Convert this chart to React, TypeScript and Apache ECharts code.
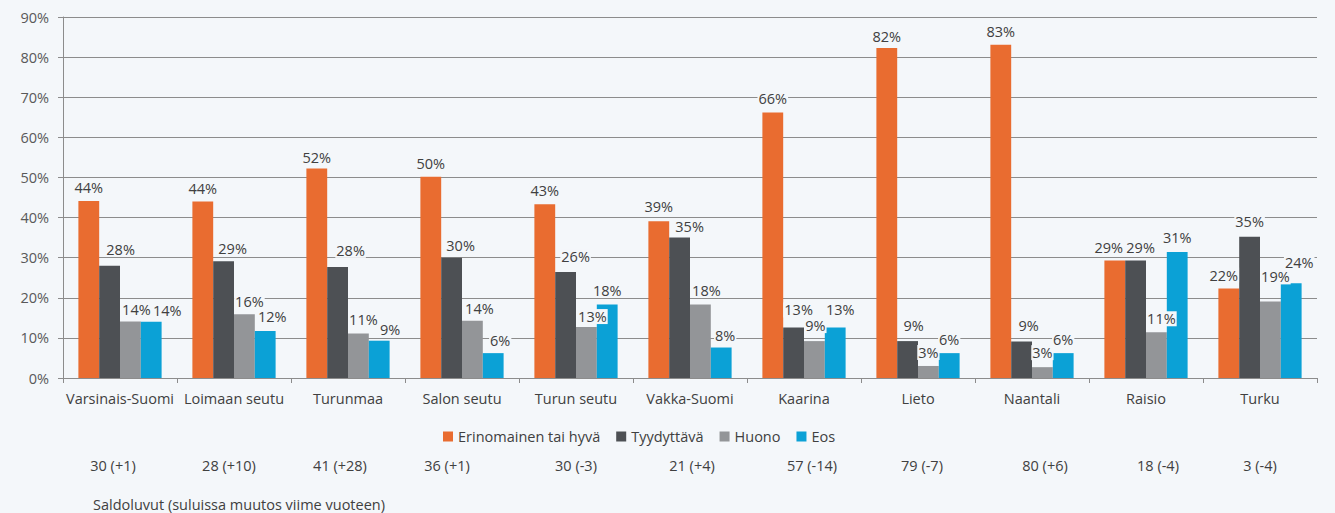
import React, { useEffect, useRef } from "react";
import * as echarts from "echarts";

const categories = [
  "Varsinais-Suomi",
  "Loimaan seutu",
  "Turunmaa",
  "Salon seutu",
  "Turun seutu",
  "Vakka-Suomi",
  "Kaarina",
  "Lieto",
  "Naantali",
  "Raisio",
  "Turku",
];

const saldoLabels = [
  "30 (+1)",
  "28 (+10)",
  "41 (+28)",
  "36 (+1)",
  "30 (-3)",
  "21 (+4)",
  "57 (-14)",
  "79 (-7)",
  "80 (+6)",
  "18 (-4)",
  "3 (-4)",
];

const seriesNames = ["Erinomainen tai hyvä", "Tyydyttävä", "Huono", "Eos"];

const erinomainen = [44.1, 44.0, 52.2, 50.2, 43.3, 39.1, 66.2, 82.3, 83.1, 29.3, 22.3];
const tyydyttava = [28.0, 29.1, 27.7, 30.0, 26.4, 35.0, 12.6, 9.2, 9.1, 29.3, 35.2];
const huono = [14.1, 15.9, 11.1, 14.3, 12.7, 18.3, 9.2, 3.0, 2.7, 11.4, 19.1];
const eos = [14.0, 11.7, 9.3, 6.2, 18.3, 7.6, 12.6, 6.2, 6.2, 31.4, 23.6];

const colors = ["#E96C30", "#4D5054", "#939598", "#0BA1D6"];

const yTicks = { min: 0, max: 90, interval: 10 };

const footnote = "Saldoluvut (suluissa muutos viime vuoteen)";

// Data-label nudges (pixels) as placed in the original, per series, per category
const labelDx = [
  [0, 0, 0, 0, 0, 0, 0, 0, 0, -6, -5],
  [11, 9, 13, 9, 10, 10, 5, 6, 7, 5, 0],
  [6, 5, 5, 7, 6, 6, 1, 0, 0, 5, 5],
  [16, 7, 11, 7, 0, 4, 5, 0, 0, 0, 8],
];
const labelDy = [
  [-1, -1, 1, -1, -1, -2, -1, 1, -1, 0, -1],
  [-4, 0, -4, 0, -3, 1, -5, -3, -3, 0, -3],
  [1, 0, -1, 0, 2, -2, -3, -1, -2, -1, -12],
  [1, -2, 1, 0, -2, 0, -5, -1, -1, -2, -8],
];
// Horizontal nudges (pixels) of the saldo row texts
const saldoDx = [-7, -5, -8, -15, 0, 2, 8, 4, 13, 12, 0];

const BG = "#F4F7FA";
const TEXT = "#404040";
const FONT = "'Open Sans', sans-serif";
const FS = 14.5;

export default function App() {
  const ref = useRef<HTMLDivElement>(null);

  useEffect(() => {
    if (!ref.current) return;
    const chart = echarts.init(ref.current, null, { renderer: "svg" });
    const data = [erinomainen, tyydyttava, huono, eos];
    const saldoRich: Record<string, any> = {};
    saldoDx.forEach((dx, i) => {
      saldoRich["s" + i] = {
        fontSize: FS,
        color: TEXT,
        fontFamily: FONT,
        padding: dx >= 0 ? [0, 0, 0, 2 * dx] : [0, -2 * dx, 0, 0],
      };
    });
    chart.setOption({
      animation: false,
      backgroundColor: BG,
      textStyle: { fontFamily: FONT },
      title: {
        text: footnote,
        left: 88,
        top: 492,
        textStyle: { fontSize: FS, fontWeight: "normal", color: TEXT, fontFamily: FONT },
      },
      legend: {
        data: seriesNames,
        left: 438,
        top: 424,
        itemWidth: 10,
        itemHeight: 10,
        itemGap: 16,
        icon: "rect",
        textStyle: { fontSize: FS, color: TEXT, fontFamily: FONT },
      },
      grid: { left: 63, right: 18, top: 17, bottom: 135, containLabel: false },
      xAxis: [
        {
          type: "category",
          data: categories,
          position: "bottom",
          axisLine: { show: true, lineStyle: { color: "#8C8C8C", width: 1 } },
          axisTick: { show: true, length: 5, interval: 0, lineStyle: { color: "#8C8C8C" } },
          axisLabel: { interval: 0, margin: 13, fontSize: FS, color: TEXT, fontFamily: FONT },
        },
        {
          type: "category",
          data: saldoLabels,
          position: "bottom",
          offset: 72,
          axisLine: { show: false },
          axisTick: { show: false },
          axisLabel: {
            interval: 0,
            margin: 8,
            fontSize: FS,
            color: TEXT,
            fontFamily: FONT,
            formatter: (val: string, idx: number) => `{s${idx}|${val}}`,
            rich: saldoRich,
          },
        },
      ],
      yAxis: {
        type: "value",
        min: yTicks.min,
        max: yTicks.max,
        interval: yTicks.interval,
        axisLine: { show: true, lineStyle: { color: "#8C8C8C", width: 1 } },
        axisTick: { show: true, length: 5, lineStyle: { color: "#8C8C8C" } },
        splitLine: { show: true, lineStyle: { color: "#8C8C8C", width: 1 } },
        axisLabel: {
          formatter: "{value}%",
          fontSize: FS,
          color: "#595959",
          margin: 14,
          fontFamily: FONT,
        },
      },
      series: seriesNames.map((name, i) => ({
        name,
        type: "bar",
        xAxisIndex: 0,
        data: data[i].map((v, j) => ({
          value: v,
          label: { offset: [labelDx[i][j], labelDy[i][j]] },
        })),
        barGap: "0%",
        barCategoryGap: "27%",
        itemStyle: { color: colors[i] },
        label: {
          show: true,
          position: "top",
          distance: 5,
          fontSize: FS,
          color: TEXT,
          fontFamily: FONT,
          backgroundColor: BG,
          padding: [0, 1],
          formatter: (p: any) => Math.round(p.value) + "%",
        },
      })),
    });
    return () => chart.dispose();
  }, []);

  return (
    <div
      ref={ref}
      style={{ position: "fixed", left: 0, top: 0, width: 1335, height: 513 }}
    />
  );
}
